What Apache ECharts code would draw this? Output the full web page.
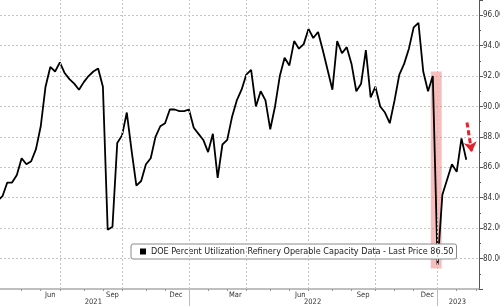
<!DOCTYPE html>
<html><head><meta charset="utf-8">
<script src="https://cdn.jsdelivr.net/npm/echarts@6/dist/echarts.min.js"></script>
<style>html,body{margin:0;padding:0;background:#fff}#c{width:500px;height:306px}</style>
</head><body><div id="c"></div>
<script>
const seriesName = 'DOE Percent Utilization Refinery Operable Capacity Data - Last Price 86.50';
const firstWeek = '2021-03-26';
const utilization = [
  83.8, 84.1, 85.0, 85.0, 85.5, 86.6, 86.2, 86.4, 87.2, 88.7,
  91.3, 92.6, 92.3, 92.9, 92.2, 91.8, 91.5, 91.1, 91.6, 92.0,
  92.3, 92.5, 91.3, 81.9, 82.1, 87.6, 88.1, 89.6, 87.1, 84.8,
  85.1, 86.2, 86.6, 88.0, 88.7, 88.9, 89.8, 89.8, 89.7, 89.7,
  89.8, 88.6, 88.2, 87.8, 87.0, 88.2, 85.3, 87.5, 87.8, 89.3,
  90.4, 91.1, 92.1, 92.4, 90.0, 91.0, 90.4, 88.5, 90.0, 92.0,
  93.2, 92.7, 94.3, 93.8, 94.1, 95.1, 94.5, 94.9, 93.7, 92.4,
  91.1, 94.3, 93.5, 93.9, 92.8, 91.0, 91.5, 93.7, 90.6, 91.3,
  90.0, 89.6, 88.9, 90.4, 92.1, 92.8, 93.8, 95.2, 95.5, 92.3,
  91.0, 92.0, 79.6, 84.2, 85.2, 86.2, 85.7, 87.9, 86.5
];
const quarterLines = ['2021-06-25','2021-09-24','2021-12-31','2022-03-25','2022-06-24','2022-09-30','2022-12-30'];
const monthTicks = ['2021-04-30','2021-05-28','2021-06-25','2021-07-30','2021-08-27','2021-09-24','2021-10-29','2021-11-26','2021-12-31',
  '2022-01-28','2022-02-25','2022-03-25','2022-04-29','2022-05-27','2022-06-24','2022-07-29','2022-08-26','2022-09-30','2022-10-28','2022-11-25','2022-12-30',
  '2023-01-27','2023-02-24'];
const monthLabels = ['Jun','Sep','Dec','Mar','Jun','Sep','Dec'];
const monthLabelDates = ['2021-06-11','2021-09-10','2021-12-12','2022-03-09','2022-06-12','2022-09-12','2022-12-15'];
const yearLabels = ['2021','2022','2023'];
const yearLabelDates = ['2021-08-13','2022-06-30','2023-01-28'];
const yearBreaks = ['2021-12-31','2022-12-30'];
const lastPrice = 86.5;
const highlightFrom = ['2022-12-20', 92.3];
const highlightTo = ['2023-01-05', 79.35];
const arrowFrom = ['2023-02-11', 88.95];
const arrowTo = ['2023-02-18', 87.0];

const DAY = 86400000;
function t(s){ const [y,m,d] = s.split('-').map(Number); return Date.UTC(y, m-1, d); }
const start = t(firstWeek);
const data = utilization.map((v,i) => [start + i*7*DAY, v]);
const xMin = t('2021-04-02') - 3.66*DAY;
const xMax = xMin + 701.3*DAY;
const FONT = "'DejaVu Sans Condensed','Liberation Sans',sans-serif";
const dotted = {color:'#c4c4c4', type:[2,2], width:1};
const monthMap = {}; monthLabelDates.forEach((d,i)=>monthMap[t(d)] = monthLabels[i]);
const yearMap = {}; yearLabelDates.forEach((d,i)=>yearMap[t(d)] = yearLabels[i]);
const baseX = {type:'value', min:xMin, max:xMax, position:'bottom', scale:true};

const chart = echarts.init(document.getElementById('c'), null, {renderer:'canvas'});
chart.setOption({
  animation:false,
  backgroundColor:'#fff',
  grid:{left:0, right:21, top:0, bottom:17, containLabel:false, outerBoundsMode:'none'},
  legend:{
    left:131, top:244, backgroundColor:'#fff', borderColor:'#8a8a8a', borderWidth:1, borderRadius:2,
    padding:[3,3,3,9], itemWidth:6, itemHeight:6, icon:'rect', selectedMode:false,
    textStyle:{fontSize:9, color:'#222', fontFamily:FONT, lineHeight:9},
    data:[{name:seriesName, itemStyle:{color:'#000'}}]
  },
  xAxis:[
    Object.assign({}, baseX, {
     axisLine:{show:true, lineStyle:{color:'#aaa', width:1.5}},
     axisTick:{show:true, customValues:monthTicks.map(t), length:2, lineStyle:{color:'#999'}},
     splitLine:{show:false},
     axisLabel:{show:true, customValues:monthLabelDates.map(t), formatter:v=>monthMap[v]||'', fontSize:7.5, margin:2, color:'#333', fontFamily:FONT}}),
    Object.assign({}, baseX, {
     axisLine:{show:false},
     axisTick:{show:true, customValues:yearBreaks.map(t), length:17, lineStyle:{color:'#bbb'}},
     splitLine:{show:false},
     axisLabel:{show:true, customValues:yearLabelDates.map(t), formatter:v=>yearMap[v]||'', fontSize:7.5, margin:9, color:'#333', fontFamily:FONT}})
  ],
  yAxis:{
    type:'value', position:'right', min:78, max:97, interval:2,
    axisLine:{show:true, lineStyle:{color:'#555', width:1}},
    axisTick:{show:true, length:4, lineStyle:{color:'#555'}},
    minorTick:{show:true, splitNumber:2, length:2, lineStyle:{color:'#555'}},
    axisLabel:{formatter:v=>(v%2===0 && v>=80 && v<=96)?v.toFixed(2):'', margin:4, fontSize:8, color:'#333', fontFamily:FONT},
    splitLine:{show:true, showMinLine:false, showMaxLine:false, lineStyle:dotted}
  },
  series:[
    {type:'line', name:'quarters', data:[], silent:true, z:1,
     markLine:{silent:true, symbol:'none', animation:false, label:{show:false}, lineStyle:dotted,
       data:quarterLines.map(d=>({xAxis:t(d)}))}},
    {
    type:'line', name:seriesName, data:data, symbol:'none', showSymbol:false, clip:true, z:3,
    lineStyle:{color:'#000', width:1.8}, itemStyle:{color:'#000'},
    markArea:{silent:true, itemStyle:{color:'rgba(238,110,110,0.45)'},
      data:[[{coord:[t(highlightFrom[0]), highlightFrom[1]]},{coord:[t(highlightTo[0]), highlightTo[1]]}]]},
    markLine:{silent:true, symbol:'none', animation:false,
      data:[
        {yAxis:lastPrice, lineStyle:{opacity:0}, label:{show:true, position:'end', distance:2, formatter:lastPrice.toFixed(2),
          backgroundColor:'#000', color:'#fff', borderRadius:3, padding:[2,2,1,2], fontSize:8, fontFamily:FONT}},
        [{coord:[t(arrowFrom[0]), arrowFrom[1]], symbol:'none', lineStyle:{color:'#e8202a', width:3, type:[5,3]}, label:{show:false}},
         {coord:[t(arrowTo[0]), arrowTo[1]], symbol:'arrow', symbolSize:[10,10]}]
      ]}
  }]
});
</script></body></html>
